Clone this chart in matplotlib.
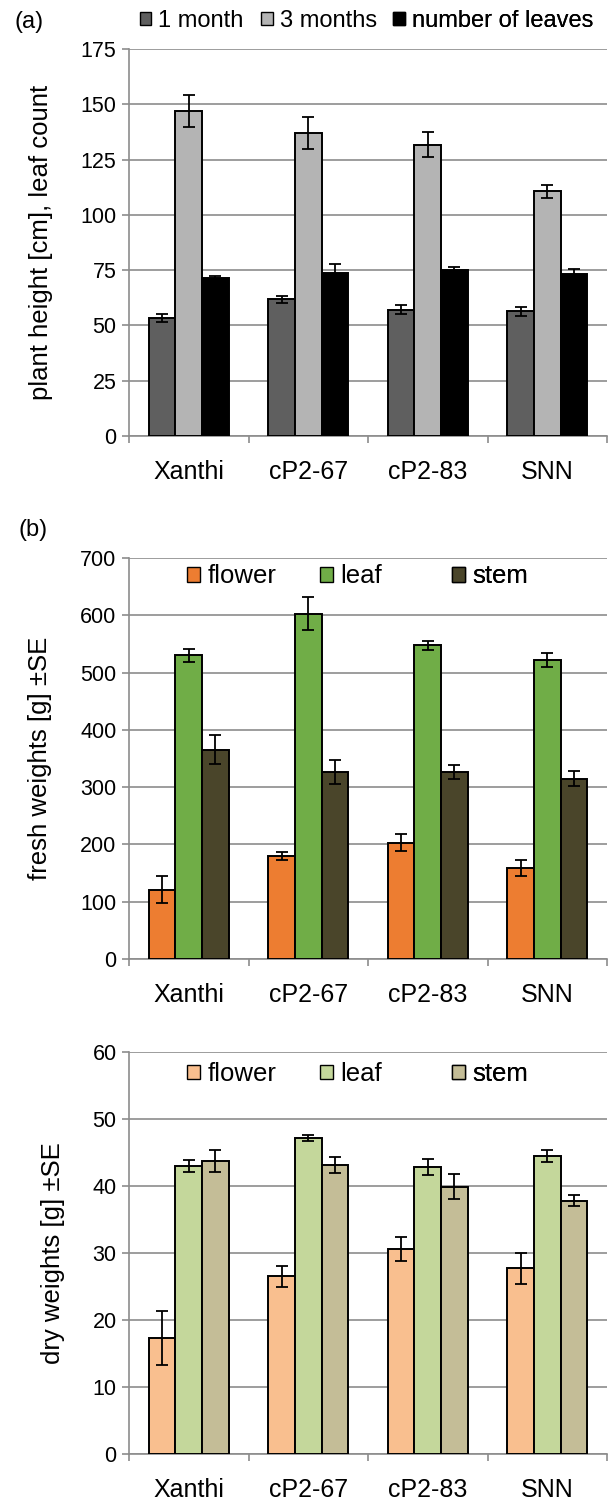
import numpy as np
import matplotlib
matplotlib.use("Agg")
import matplotlib.pyplot as plt
from matplotlib.patches import Patch

plt.rcParams['font.family'] = ['Liberation Sans', 'DejaVu Sans']

groups = ['Xanthi', 'cP2-67', 'cP2-83', 'SNN']

# (a) plant height and leaf number
height_1m = [53.3, 61.9, 57.2, 56.3]
height_1m_err = [1.9, 1.6, 2.1, 1.9]
height_3m = [146.9, 137.0, 131.8, 110.6]
height_3m_err = [7.3, 7.1, 5.6, 3.1]
leaf_count = [71.3, 73.5, 75.0, 73.2]
leaf_count_err = [1.2, 4.2, 1.2, 2.1]

# (b) fresh weights
fresh_flower = [121, 179, 203, 159]
fresh_flower_err = [23.5, 7.0, 14.8, 13.6]
fresh_leaf = [530, 603, 548, 522]
fresh_leaf_err = [11.7, 28.3, 7.9, 12.8]
fresh_stem = [365, 326, 326, 315]
fresh_stem_err = [25.2, 20.6, 12.5, 12.5]

# dry weights
dry_flower = [17.3, 26.5, 30.6, 27.7]
dry_flower_err = [4.0, 1.6, 1.8, 2.3]
dry_leaf = [43.0, 47.2, 42.8, 44.5]
dry_leaf_err = [0.9, 0.45, 1.2, 0.9]
dry_stem = [43.7, 43.2, 39.9, 37.8]
dry_stem_err = [1.6, 1.2, 1.9, 0.85]

W, H = 608, 1501
GRID = '#8c8c8c'
BAR_W = 0.222

fig = plt.figure(figsize=(W / 100, H / 100), dpi=100)


def add_axes_px(left, top, right, bottom):
    return fig.add_axes([left / W, 1 - bottom / H, (right - left) / W, (bottom - top) / H])


def bar_panel(ax, series, ymax, ystep, ylabel):
    x = np.arange(len(groups))
    for i, (vals, errs, color, label) in enumerate(series):
        xs = x + (i - 1) * BAR_W
        ax.bar(xs, vals, BAR_W, color=color, edgecolor='black', linewidth=1.4,
               zorder=3, label=label)
        ax.errorbar(xs, vals, yerr=errs, fmt='none', ecolor='black',
                    elinewidth=1.3, capsize=4.5, capthick=1.3, zorder=4)
    ax.set_xlim(-0.5, len(groups) - 0.5)
    ax.set_ylim(0, ymax)
    ax.set_yticks(np.arange(0, ymax + 1, ystep))
    ax.yaxis.grid(True, color=GRID, linewidth=1.2, zorder=0)
    ax.set_axisbelow(True)
    for side in ['top', 'right']:
        ax.spines[side].set_visible(False)
    for side in ['left', 'bottom']:
        ax.spines[side].set_color(GRID)
        ax.spines[side].set_linewidth(1.2)
    # tick marks between categories, labels under the categories
    ax.set_xticks(np.arange(-0.5, len(groups)), labels=[''] * (len(groups) + 1))
    ax.set_xticks(x, labels=groups, minor=True)
    ax.tick_params(axis='x', which='major', length=5, width=1.2, color=GRID, direction='out')
    ax.tick_params(axis='x', which='minor', length=0, pad=17, labelsize=18)
    ax.tick_params(axis='y', length=5, width=1.2, color=GRID, pad=4, labelsize=15.5)
    ax.set_ylabel(ylabel, fontsize=18.5, labelpad=20)


def legend_row(ax, series, xs, y, fontsize):
    # one legend per entry so the entries sit at fixed positions
    for (vals, errs, color, label), xpos in zip(series, xs):
        h = Patch(facecolor=color, edgecolor='black', linewidth=1.0)
        leg = ax.legend(handles=[h], labels=[label], loc='center left',
                        bbox_to_anchor=(xpos, y), frameon=False, fontsize=fontsize,
                        handlelength=0.5, handleheight=0.5, handletextpad=0.3,
                        borderpad=0, borderaxespad=0)
        ax.add_artist(leg)


# (a)
ax_a = add_axes_px(129, 49, 607, 436)
series_a = [
    (height_1m, height_1m_err, '#5f5f5f', '1 month'),
    (height_3m, height_3m_err, '#b4b4b4', '3 months'),
    (leaf_count, leaf_count_err, '#000000', 'number of leaves'),
]
bar_panel(ax_a, series_a, 175, 25, 'plant height [cm], leaf count')
legend_row(ax_a, series_a, [0.022, 0.276, 0.553], 1.072, 17)

# (b)
ax_b = add_axes_px(129, 558, 607, 959)
series_b = [
    (fresh_flower, fresh_flower_err, '#ed7d31', 'flower'),
    (fresh_leaf, fresh_leaf_err, '#70ad47', 'leaf'),
    (fresh_stem, fresh_stem_err, '#4a452a', 'stem'),
]
bar_panel(ax_b, series_b, 700, 100, 'fresh weights [g] \u00b1SE')
legend_row(ax_b, series_b, [0.122, 0.399, 0.676], 0.954, 18.5)

# dry weights
ax_c = add_axes_px(129, 1052, 607, 1454)
series_c = [
    (dry_flower, dry_flower_err, '#f9bf8f', 'flower'),
    (dry_leaf, dry_leaf_err, '#c4d79b', 'leaf'),
    (dry_stem, dry_stem_err, '#c4bd97', 'stem'),
]
bar_panel(ax_c, series_c, 60, 10, 'dry weights [g] \u00b1SE')
legend_row(ax_c, series_c, [0.122, 0.399, 0.676], 0.945, 18.5)

fig.text(15 / W, 1 - 22 / H, '(a)', fontsize=17, va='center', ha='left')
fig.text(19 / W, 1 - 530 / H, '(b)', fontsize=17, va='center', ha='left')

fig.savefig('out.png', dpi=100)
